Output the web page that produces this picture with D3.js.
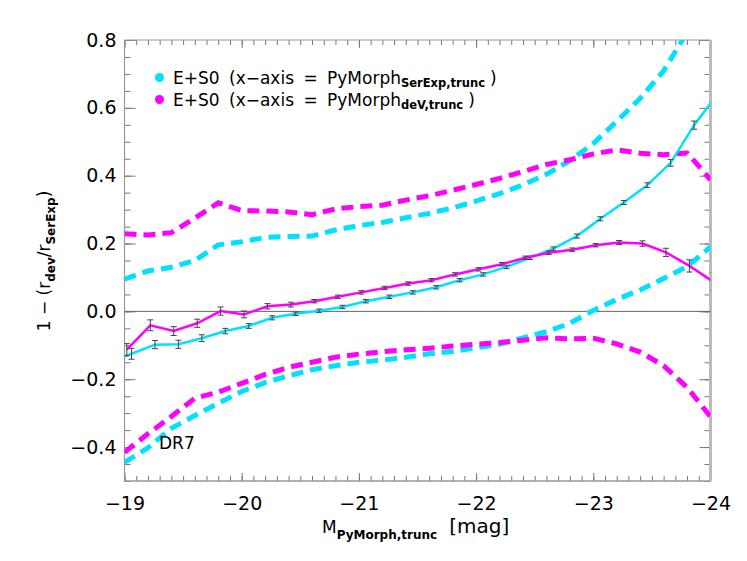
<!DOCTYPE html>
<html>
<head>
<meta charset="utf-8">
<script src="https://cdn.jsdelivr.net/npm/d3@7"></script>
<style>
  body { margin: 0; background: #fff; }
  text { font-family: 'DejaVu Sans', sans-serif; fill: #000; }
</style>
</head>
<body>
<div class="d3-container"></div>
<script>
const w = 747
const h = 561
const m = { left: 124.5, right: 36.5, top: 40, bottom: 80 }

// tick labels
const xTicks = [-19, -20, -21, -22, -23, -24]
const yTicks = [-0.4, -0.2, 0.0, 0.2, 0.4, 0.6, 0.8]

// solid lines with error bars
const cyanX = [-18.86, -19.06, -19.26, -19.46, -19.66, -19.86, -20.06, -20.26, -20.46, -20.66, -20.86, -21.06, -21.26, -21.46, -21.66, -21.86, -22.06, -22.26, -22.46, -22.66, -22.86, -23.06, -23.26, -23.46, -23.66, -23.86, -24.06]
const cyanY = [-0.15, -0.125, -0.098, -0.097, -0.079, -0.058, -0.043, -0.019, -0.007, 0.002, 0.013, 0.030, 0.043, 0.056, 0.071, 0.092, 0.109, 0.131, 0.158, 0.185, 0.222, 0.273, 0.321, 0.372, 0.438, 0.549, 0.64]
const cyanErr = [0.02, 0.016, 0.012, 0.012, 0.010, 0.008, 0.007, 0.006, 0.005, 0.005, 0.005, 0.005, 0.005, 0.005, 0.005, 0.005, 0.005, 0.005, 0.005, 0.005, 0.006, 0.006, 0.006, 0.007, 0.010, 0.012, 0.015]

const magX = [-19.02, -19.22, -19.42, -19.62, -19.82, -20.02, -20.22, -20.42, -20.62, -20.82, -21.02, -21.22, -21.42, -21.62, -21.82, -22.02, -22.22, -22.42, -22.62, -22.82, -23.02, -23.22, -23.42, -23.62, -23.82, -24.02]
const magY = [-0.113, -0.041, -0.058, -0.035, 0.001, -0.009, 0.015, 0.020, 0.030, 0.043, 0.056, 0.069, 0.082, 0.092, 0.109, 0.124, 0.139, 0.158, 0.173, 0.182, 0.195, 0.203, 0.200, 0.174, 0.134, 0.088]
const magErr = [0.018, 0.016, 0.013, 0.012, 0.012, 0.010, 0.008, 0.007, 0.005, 0.005, 0.005, 0.005, 0.005, 0.005, 0.005, 0.005, 0.005, 0.005, 0.005, 0.005, 0.005, 0.006, 0.008, 0.012, 0.018, 0.026]

// dashed envelopes
const envX = [-19.0, -19.2, -19.4, -19.6, -19.8, -20.0, -20.2, -20.4, -20.6, -20.8, -21.0, -21.2, -21.4, -21.6, -21.8, -22.0, -22.2, -22.4, -22.6, -22.8, -23.0, -23.2, -23.4, -23.6, -23.8, -24.0]
const cyanUpX = [-19.0, -19.2, -19.4, -19.6, -19.8, -20.0, -20.2, -20.4, -20.6, -20.8, -21.0, -21.2, -21.4, -21.6, -21.8, -22.0, -22.2, -22.4, -22.6, -22.8, -23.0, -23.2, -23.4, -23.6, -23.8]
const cyanUpY = [0.095, 0.119, 0.130, 0.150, 0.196, 0.205, 0.218, 0.221, 0.222, 0.240, 0.253, 0.262, 0.276, 0.289, 0.305, 0.325, 0.347, 0.373, 0.404, 0.444, 0.495, 0.560, 0.628, 0.709, 0.823]
const cyanLowY = [-0.445, -0.402, -0.345, -0.307, -0.271, -0.236, -0.210, -0.190, -0.172, -0.160, -0.150, -0.144, -0.135, -0.125, -0.118, -0.107, -0.097, -0.078, -0.060, -0.035, 0.003, 0.035, 0.063, 0.097, 0.132, 0.190]
const magUpX = [-19.0, -19.2, -19.4, -19.6, -19.8, -20.0, -20.2, -20.4, -20.6, -20.8, -21.0, -21.2, -21.4, -21.6, -21.8, -22.0, -22.2, -22.4, -22.6, -22.8, -23.0, -23.2, -23.4, -23.6, -23.8, -23.9, -24.0]
const magUpY = [0.229, 0.225, 0.232, 0.275, 0.320, 0.297, 0.296, 0.293, 0.285, 0.302, 0.309, 0.313, 0.328, 0.341, 0.357, 0.374, 0.392, 0.412, 0.433, 0.447, 0.464, 0.476, 0.466, 0.462, 0.467, 0.428, 0.388]
const magLowY = [-0.415, -0.361, -0.310, -0.256, -0.238, -0.212, -0.186, -0.165, -0.150, -0.135, -0.126, -0.119, -0.113, -0.109, -0.102, -0.097, -0.092, -0.085, -0.078, -0.081, -0.079, -0.096, -0.120, -0.160, -0.224, -0.310]

const cyan = '#00e1ff'
const magenta = '#ff00ff'

const svg = d3.select('.d3-container')
    .append('svg')
    .attr('width', w)
    .attr('height', h)

const x = d3.scaleLinear()
    .domain([-19, -24])
    .range([m.left, w - m.right])

const y = d3.scaleLinear()
    .domain([-0.5, 0.8])
    .range([h - m.bottom, m.top])

const x0 = m.left, x1 = w - m.right, y0 = h - m.bottom, y1 = m.top

svg.append('clipPath')
    .attr('id', 'plot')
    .append('rect')
    .attr('x', x0)
    .attr('y', y1)
    .attr('width', x1 - x0)
    .attr('height', y0 - y1)

// minor ticks every 0.1 mag / 0.05
const xMinor = d3.range(-19, -24.001, -0.1).map(v => +v.toFixed(2))
const yMinor = d3.range(-0.5, 0.8001, 0.05).map(v => +v.toFixed(2))

const axisStyle = (g) => {
    g.select('.domain').remove()
    g.selectAll('line').attr('stroke', '#777')
    g.selectAll('text').style('font-size', '19px').attr('fill', '#000')
}

// bottom
svg.append('g').attr('transform', `translate(0,${y0})`)
    .call(d3.axisBottom(x).tickValues(xMinor).tickFormat('').tickSize(-5).tickSizeOuter(0))
    .call(axisStyle)
svg.append('g').attr('transform', `translate(0,${y0})`)
    .call(d3.axisBottom(x).tickValues(xTicks).tickFormat(d3.format('d')).tickSize(-8).tickSizeOuter(0).tickPadding(16))
    .call(axisStyle)
// top
svg.append('g').attr('transform', `translate(0,${y1})`)
    .call(d3.axisTop(x).tickValues(xMinor).tickFormat('').tickSize(-5).tickSizeOuter(0))
    .call(axisStyle)
svg.append('g').attr('transform', `translate(0,${y1})`)
    .call(d3.axisTop(x).tickValues(xTicks).tickFormat('').tickSize(-8).tickSizeOuter(0))
    .call(axisStyle)
// left
svg.append('g').attr('transform', `translate(${x0},0)`)
    .call(d3.axisLeft(y).tickValues(yMinor).tickFormat('').tickSize(-6).tickSizeOuter(0))
    .call(axisStyle)
svg.append('g').attr('transform', `translate(${x0},0)`)
    .call(d3.axisLeft(y).tickValues(yTicks).tickFormat(d3.format('.1f')).tickSize(-11).tickSizeOuter(0).tickPadding(8))
    .call(axisStyle)
// right
svg.append('g').attr('transform', `translate(${x1},0)`)
    .call(d3.axisRight(y).tickValues(yMinor).tickFormat('').tickSize(-6).tickSizeOuter(0))
    .call(axisStyle)
svg.append('g').attr('transform', `translate(${x1},0)`)
    .call(d3.axisRight(y).tickValues(yTicks).tickFormat('').tickSize(-11).tickSizeOuter(0))
    .call(axisStyle)

// frame
svg.append('line').attr('x1', x0).attr('x2', x0).attr('y1', y1).attr('y2', y0).attr('stroke', '#999').attr('stroke-width', 1.2)
svg.append('line').attr('x1', x0).attr('x2', x1).attr('y1', y0).attr('y2', y0).attr('stroke', '#999').attr('stroke-width', 1.5)
svg.append('line').attr('x1', x0).attr('x2', x1).attr('y1', y1).attr('y2', y1).attr('stroke', '#999').attr('stroke-width', 1.2)
svg.append('line').attr('x1', x1).attr('x2', x1).attr('y1', y1).attr('y2', y0).attr('stroke', '#bbb').attr('stroke-width', 3)

// zero line
svg.append('line')
    .attr('x1', x0).attr('x2', x1)
    .attr('y1', y(0)).attr('y2', y(0))
    .attr('stroke', '#666')
    .attr('stroke-width', 1)

const plot = svg.append('g').attr('clip-path', 'url(#plot)')

const line = d3.line()
    .x(d => x(d[0]))
    .y(d => y(d[1]))

const dashed = [
    [cyanUpX, cyanUpY, cyan],
    [envX, cyanLowY, cyan],
    [magUpX, magUpY, magenta],
    [envX, magLowY, magenta]
]

dashed.forEach(([xs, ys, c]) => {
    plot.append('path')
        .datum(xs.map((v, i) => [v, ys[i]]))
        .attr('d', line)
        .attr('fill', 'none')
        .attr('stroke', c)
        .attr('stroke-width', 5)
        .attr('stroke-dasharray', '12,7')
})

const solid = [
    [cyanX, cyanY, cyanErr, cyan],
    [magX, magY, magErr, magenta]
]

solid.forEach(([xs, ys, es, c]) => {
    const pts = xs.map((v, i) => [v, ys[i], es[i]])
    plot.append('path')
        .datum(pts)
        .attr('d', line)
        .attr('fill', 'none')
        .attr('stroke', c)
        .attr('stroke-width', 2.5)

    const eb = plot.append('g')
        .attr('stroke', '#444')
        .attr('stroke-width', 1)
        .selectAll('g')
        .data(pts)
        .enter()
        .append('g')
    eb.append('line')
        .attr('x1', d => x(d[0])).attr('x2', d => x(d[0]))
        .attr('y1', d => y(d[1] - d[2])).attr('y2', d => y(d[1] + d[2]))
    eb.append('line')
        .attr('x1', d => x(d[0]) - 3).attr('x2', d => x(d[0]) + 3)
        .attr('y1', d => y(d[1] - d[2])).attr('y2', d => y(d[1] - d[2]))
    eb.append('line')
        .attr('x1', d => x(d[0]) - 3).attr('x2', d => x(d[0]) + 3)
        .attr('y1', d => y(d[1] + d[2])).attr('y2', d => y(d[1] + d[2]))
})

// legend
const legend = svg.append('g')
const legendItems = [
    [cyan, 'SerExp,trunc', 84],
    [magenta, 'deV,trunc', 106]
]
legendItems.forEach(([c, sub, by]) => {
    legend.append('circle')
        .attr('cx', 159.5)
        .attr('cy', by - 6.5)
        .attr('r', 4.5)
        .attr('fill', c)
    const t = legend.append('text')
        .attr('x', 173)
        .attr('y', by)
        .style('font-size', '17px')
        .attr('word-spacing', '4px')
    t.append('tspan').text('E+S0 (x\u2212axis = PyMorph')
    t.append('tspan').attr('dy', 3).style('font-size', '11.5px').style('font-weight', 'bold').text(sub)
    t.append('tspan').attr('dy', -3).attr('dx', 5).style('font-size', '17px').text(')')
})

// DR7
svg.append('text')
    .attr('x', 159)
    .attr('y', 449)
    .style('font-size', '17px')
    .text('DR7')

// x label
const xl = svg.append('text')
    .attr('x', 322)
    .attr('y', 533)
    .style('font-size', '17px')
xl.append('tspan').text('M')
xl.append('tspan').attr('dy', 6).style('font-size', '12px').style('font-weight', 'bold').text('PyMorph,trunc')
xl.append('tspan').attr('dy', -6).attr('dx', 12).style('font-size', '20px').text('[mag]')

// y label
const yl = svg.append('text')
    .attr('transform', 'translate(50,261) rotate(-90)')
    .attr('text-anchor', 'middle')
    .style('font-size', '17px')
yl.append('tspan').text('1 \u2212 (r')
yl.append('tspan').attr('dy', 5).style('font-size', '12px').style('font-weight', 'bold').text('dev')
yl.append('tspan').attr('dy', -5).text('/r')
yl.append('tspan').attr('dy', 5).style('font-size', '12px').style('font-weight', 'bold').text('SerExp')
yl.append('tspan').attr('dy', -5).text(')')
</script>
</body>
</html>
